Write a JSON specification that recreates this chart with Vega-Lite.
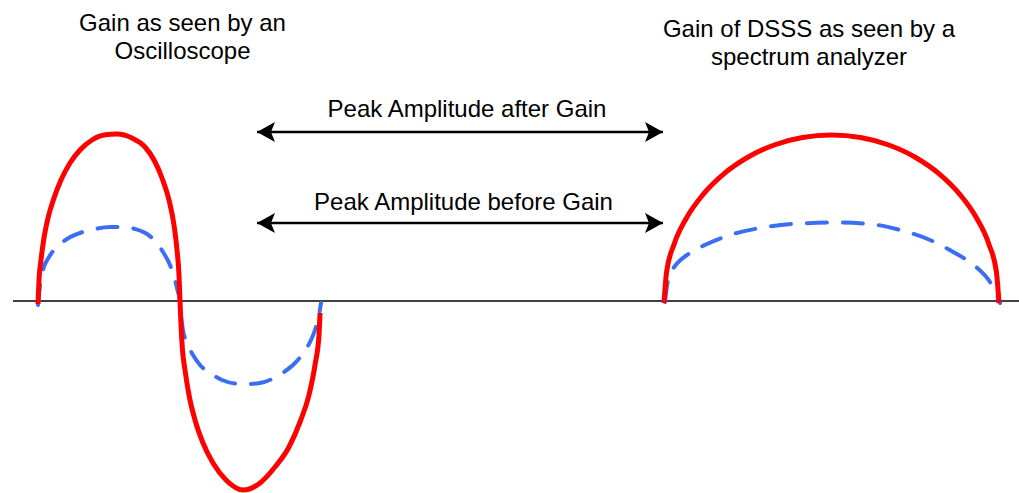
{
  "$schema": "https://vega.github.io/schema/vega-lite/v6.json",
  "width": 1019,
  "height": 493,
  "autosize": {"type": "none"},
  "padding": 0,
  "background": "white",
  "config": {"view": {"stroke": null}},
  "datasets": {
    "curves": [
      {"view": "oscilloscope", "gain": "after", "i": 1, "t": 38, "a": -3},
      {"view": "oscilloscope", "gain": "after", "i": 2, "t": 39, "a": 21},
      {"view": "oscilloscope", "gain": "after", "i": 3, "t": 41, "a": 41},
      {"view": "oscilloscope", "gain": "after", "i": 4, "t": 44, "a": 63},
      {"view": "oscilloscope", "gain": "after", "i": 5, "t": 48, "a": 83},
      {"view": "oscilloscope", "gain": "after", "i": 6, "t": 54, "a": 103},
      {"view": "oscilloscope", "gain": "after", "i": 7, "t": 61, "a": 121},
      {"view": "oscilloscope", "gain": "after", "i": 8, "t": 70, "a": 138},
      {"view": "oscilloscope", "gain": "after", "i": 9, "t": 80, "a": 151},
      {"view": "oscilloscope", "gain": "after", "i": 10, "t": 92, "a": 161},
      {"view": "oscilloscope", "gain": "after", "i": 11, "t": 104, "a": 166},
      {"view": "oscilloscope", "gain": "after", "i": 12, "t": 117, "a": 167},
      {"view": "oscilloscope", "gain": "after", "i": 13, "t": 132, "a": 163},
      {"view": "oscilloscope", "gain": "after", "i": 14, "t": 145, "a": 154},
      {"view": "oscilloscope", "gain": "after", "i": 15, "t": 154, "a": 141},
      {"view": "oscilloscope", "gain": "after", "i": 16, "t": 162, "a": 123},
      {"view": "oscilloscope", "gain": "after", "i": 17, "t": 169, "a": 101},
      {"view": "oscilloscope", "gain": "after", "i": 18, "t": 174, "a": 76},
      {"view": "oscilloscope", "gain": "after", "i": 19, "t": 177, "a": 51},
      {"view": "oscilloscope", "gain": "after", "i": 20, "t": 179, "a": 26},
      {"view": "oscilloscope", "gain": "after", "i": 21, "t": 180, "a": 0},
      {"view": "oscilloscope", "gain": "after", "i": 22, "t": 181, "a": -24},
      {"view": "oscilloscope", "gain": "after", "i": 23, "t": 182.5, "a": -49},
      {"view": "oscilloscope", "gain": "after", "i": 24, "t": 185, "a": -69},
      {"view": "oscilloscope", "gain": "after", "i": 25, "t": 189, "a": -94},
      {"view": "oscilloscope", "gain": "after", "i": 26, "t": 195, "a": -119},
      {"view": "oscilloscope", "gain": "after", "i": 27, "t": 203, "a": -142},
      {"view": "oscilloscope", "gain": "after", "i": 28, "t": 213, "a": -162},
      {"view": "oscilloscope", "gain": "after", "i": 29, "t": 226, "a": -179},
      {"view": "oscilloscope", "gain": "after", "i": 30, "t": 243, "a": -189},
      {"view": "oscilloscope", "gain": "after", "i": 31, "t": 260, "a": -182},
      {"view": "oscilloscope", "gain": "after", "i": 32, "t": 275, "a": -166},
      {"view": "oscilloscope", "gain": "after", "i": 33, "t": 289, "a": -146},
      {"view": "oscilloscope", "gain": "after", "i": 34, "t": 300, "a": -121},
      {"view": "oscilloscope", "gain": "after", "i": 35, "t": 309, "a": -94},
      {"view": "oscilloscope", "gain": "after", "i": 36, "t": 315, "a": -64},
      {"view": "oscilloscope", "gain": "after", "i": 37, "t": 319, "a": -34},
      {"view": "oscilloscope", "gain": "after", "i": 38, "t": 320, "a": -12},

      {"view": "oscilloscope", "gain": "before", "i": 1, "t": 38, "a": -4},
      {"view": "oscilloscope", "gain": "before", "i": 2, "t": 40, "a": 16},
      {"view": "oscilloscope", "gain": "before", "i": 3, "t": 43, "a": 31},
      {"view": "oscilloscope", "gain": "before", "i": 4, "t": 49, "a": 44},
      {"view": "oscilloscope", "gain": "before", "i": 5, "t": 57, "a": 54},
      {"view": "oscilloscope", "gain": "before", "i": 6, "t": 67, "a": 62},
      {"view": "oscilloscope", "gain": "before", "i": 7, "t": 80, "a": 68},
      {"view": "oscilloscope", "gain": "before", "i": 8, "t": 95, "a": 72},
      {"view": "oscilloscope", "gain": "before", "i": 9, "t": 110, "a": 74},
      {"view": "oscilloscope", "gain": "before", "i": 10, "t": 122, "a": 74},
      {"view": "oscilloscope", "gain": "before", "i": 11, "t": 135, "a": 72},
      {"view": "oscilloscope", "gain": "before", "i": 12, "t": 147, "a": 67},
      {"view": "oscilloscope", "gain": "before", "i": 13, "t": 156, "a": 59},
      {"view": "oscilloscope", "gain": "before", "i": 14, "t": 163, "a": 49},
      {"view": "oscilloscope", "gain": "before", "i": 15, "t": 170, "a": 36},
      {"view": "oscilloscope", "gain": "before", "i": 16, "t": 175, "a": 21},
      {"view": "oscilloscope", "gain": "before", "i": 17, "t": 178, "a": 9},
      {"view": "oscilloscope", "gain": "before", "i": 18, "t": 180, "a": 0},
      {"view": "oscilloscope", "gain": "before", "i": 19, "t": 181, "a": -14},
      {"view": "oscilloscope", "gain": "before", "i": 20, "t": 183, "a": -29},
      {"view": "oscilloscope", "gain": "before", "i": 21, "t": 187, "a": -42},
      {"view": "oscilloscope", "gain": "before", "i": 22, "t": 193, "a": -54},
      {"view": "oscilloscope", "gain": "before", "i": 23, "t": 200, "a": -64},
      {"view": "oscilloscope", "gain": "before", "i": 24, "t": 210, "a": -72},
      {"view": "oscilloscope", "gain": "before", "i": 25, "t": 222, "a": -79},
      {"view": "oscilloscope", "gain": "before", "i": 26, "t": 235, "a": -82.5},
      {"view": "oscilloscope", "gain": "before", "i": 27, "t": 248, "a": -83},
      {"view": "oscilloscope", "gain": "before", "i": 28, "t": 260, "a": -82},
      {"view": "oscilloscope", "gain": "before", "i": 29, "t": 272, "a": -78},
      {"view": "oscilloscope", "gain": "before", "i": 30, "t": 284, "a": -71},
      {"view": "oscilloscope", "gain": "before", "i": 31, "t": 295, "a": -62},
      {"view": "oscilloscope", "gain": "before", "i": 32, "t": 304, "a": -51},
      {"view": "oscilloscope", "gain": "before", "i": 33, "t": 311, "a": -39},
      {"view": "oscilloscope", "gain": "before", "i": 34, "t": 316, "a": -26},
      {"view": "oscilloscope", "gain": "before", "i": 35, "t": 319, "a": -14},
      {"view": "oscilloscope", "gain": "before", "i": 36, "t": 321, "a": -2},

      {"view": "spectrum", "gain": "after", "i": 1, "t": 664.0, "a": -2},
      {"view": "spectrum", "gain": "after", "i": 2, "t": 666.55, "a": 28.82},
      {"view": "spectrum", "gain": "after", "i": 3, "t": 674.10, "a": 56.77},
      {"view": "spectrum", "gain": "after", "i": 4, "t": 686.44, "a": 83},
      {"view": "spectrum", "gain": "after", "i": 5, "t": 703.19, "a": 106.70},
      {"view": "spectrum", "gain": "after", "i": 6, "t": 723.83, "a": 127.16},
      {"view": "spectrum", "gain": "after", "i": 7, "t": 747.75, "a": 143.76},
      {"view": "spectrum", "gain": "after", "i": 8, "t": 774.21, "a": 155.99},
      {"view": "spectrum", "gain": "after", "i": 9, "t": 802.42, "a": 163.48},
      {"view": "spectrum", "gain": "after", "i": 10, "t": 831.5, "a": 166},
      {"view": "spectrum", "gain": "after", "i": 11, "t": 860.58, "a": 163.48},
      {"view": "spectrum", "gain": "after", "i": 12, "t": 888.79, "a": 155.99},
      {"view": "spectrum", "gain": "after", "i": 13, "t": 915.25, "a": 143.76},
      {"view": "spectrum", "gain": "after", "i": 14, "t": 939.17, "a": 127.16},
      {"view": "spectrum", "gain": "after", "i": 15, "t": 959.81, "a": 106.70},
      {"view": "spectrum", "gain": "after", "i": 16, "t": 976.56, "a": 83},
      {"view": "spectrum", "gain": "after", "i": 17, "t": 988.90, "a": 56.77},
      {"view": "spectrum", "gain": "after", "i": 18, "t": 996.45, "a": 28.82},
      {"view": "spectrum", "gain": "after", "i": 19, "t": 999.0, "a": -2},

      {"view": "spectrum", "gain": "before", "i": 1, "t": 665, "a": -1},
      {"view": "spectrum", "gain": "before", "i": 2, "t": 667, "a": 15},
      {"view": "spectrum", "gain": "before", "i": 3, "t": 670, "a": 27},
      {"view": "spectrum", "gain": "before", "i": 4, "t": 675, "a": 35},
      {"view": "spectrum", "gain": "before", "i": 5, "t": 690, "a": 48},
      {"view": "spectrum", "gain": "before", "i": 6, "t": 707, "a": 57},
      {"view": "spectrum", "gain": "before", "i": 7, "t": 730, "a": 66},
      {"view": "spectrum", "gain": "before", "i": 8, "t": 760, "a": 73},
      {"view": "spectrum", "gain": "before", "i": 9, "t": 800, "a": 77.5},
      {"view": "spectrum", "gain": "before", "i": 10, "t": 837, "a": 78.5},
      {"view": "spectrum", "gain": "before", "i": 11, "t": 870, "a": 77},
      {"view": "spectrum", "gain": "before", "i": 12, "t": 900, "a": 71},
      {"view": "spectrum", "gain": "before", "i": 13, "t": 930, "a": 61},
      {"view": "spectrum", "gain": "before", "i": 14, "t": 955, "a": 48},
      {"view": "spectrum", "gain": "before", "i": 15, "t": 975, "a": 35},
      {"view": "spectrum", "gain": "before", "i": 16, "t": 990, "a": 19},
      {"view": "spectrum", "gain": "before", "i": 17, "t": 997, "a": 6},
      {"view": "spectrum", "gain": "before", "i": 18, "t": 1000, "a": -2}
    ],
    "arrows": [
      {"name": "Peak Amplitude after Gain", "t": 257, "t2": 663, "a": 169},
      {"name": "Peak Amplitude before Gain", "t": 257, "t2": 663, "a": 78}
    ],
    "labels": [
      {"label": "Gain as seen by an", "t": 182.5, "a": 270},
      {"label": "Oscilloscope", "t": 182.5, "a": 242.5},
      {"label": "Gain of DSSS as seen by a", "t": 809, "a": 264},
      {"label": "spectrum analyzer", "t": 809, "a": 236},
      {"label": "Peak Amplitude after Gain", "t": 467, "a": 184},
      {"label": "Peak Amplitude before Gain", "t": 463.5, "a": 91}
    ]
  },
  "encoding": {
    "x": {"field": "t", "type": "quantitative", "axis": null, "scale": {"domain": [0, 1019], "nice": false, "zero": false}},
    "y": {"field": "a", "type": "quantitative", "axis": null, "scale": {"domain": [-192, 301], "nice": false, "zero": false}}
  },
  "layer": [
    {
      "data": {"values": [{"t": 13, "t2": 1019, "a": 0}]},
      "mark": {"type": "rule", "color": "#000000", "strokeWidth": 1.5},
      "encoding": {"x2": {"field": "t2"}}
    },
    {
      "data": {"name": "curves"},
      "transform": [{"filter": {"field": "gain", "equal": "before"}}],
      "mark": {"type": "line", "color": "#3c6ef4", "strokeWidth": 4, "strokeDash": [20, 16], "strokeCap": "round", "interpolate": "monotone"},
      "encoding": {
        "detail": {"field": "view", "type": "nominal"},
        "order": {"field": "i", "type": "quantitative"}
      }
    },
    {
      "data": {"name": "curves"},
      "transform": [{"filter": {"field": "gain", "equal": "after"}}],
      "mark": {"type": "line", "color": "#ff0000", "strokeWidth": 5, "interpolate": "monotone"},
      "encoding": {
        "detail": {"field": "view", "type": "nominal"},
        "order": {"field": "i", "type": "quantitative"}
      }
    },
    {
      "data": {"name": "arrows"},
      "mark": {"type": "rule", "color": "#000000", "strokeWidth": 2.6},
      "encoding": {"x2": {"field": "t2"}}
    },
    {
      "data": {"name": "arrows"},
      "mark": {"type": "point", "shape": "M0,0L2,-1.1L1.55,0L2,1.1Z", "size": 324, "filled": true, "color": "#000000", "opacity": 1, "strokeWidth": 0}
    },
    {
      "data": {"name": "arrows"},
      "mark": {"type": "point", "shape": "M0,0L-2,-1.1L-1.55,0L-2,1.1Z", "size": 324, "filled": true, "color": "#000000", "opacity": 1, "strokeWidth": 0},
      "encoding": {"x": {"field": "t2", "type": "quantitative"}}
    },
    {
      "data": {"name": "labels"},
      "mark": {"type": "text", "font": "Liberation Sans", "fontSize": 24, "align": "center", "baseline": "alphabetic", "color": "#000000"},
      "encoding": {"text": {"field": "label", "type": "nominal"}}
    }
  ]
}
